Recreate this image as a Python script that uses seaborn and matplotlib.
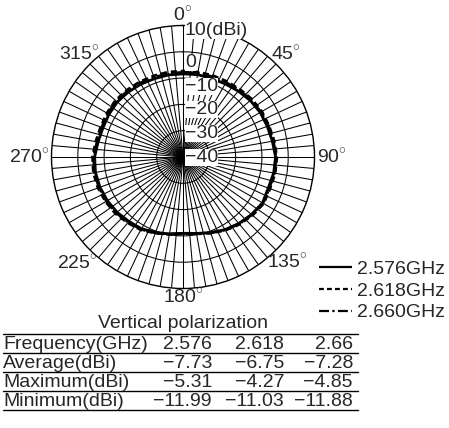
import numpy as np
import pandas as pd
import matplotlib
matplotlib.use("Agg")
import matplotlib.pyplot as plt
from matplotlib.lines import Line2D
import seaborn as sns

# measured pattern, every 10 degrees (clockwise from top), dBi
angles = list(range(0, 360, 10))
gain_2576 = [-8.4, -8.2, -8.2, -7.9, -7.3, -6.6, -6.1, -5.9, -5.5, -4.8, -5.0, -5.5,
             -5.1, -6.0, -7.0, -8.1, -9.4, -10.5, -11.0, -10.3, -9.5, -8.5, -8.0, -7.3,
             -6.8, -6.4, -6.2, -6.4, -7.2, -7.6, -7.5, -7.4, -7.7, -8.0, -8.3, -8.3]
gain_2618 = [-7.3, -7.2, -7.0, -6.8, -6.4, -5.8, -5.4, -5.2, -4.8, -4.3, -4.4, -4.8,
             -4.6, -5.5, -6.6, -7.8, -9.2, -10.3, -10.8, -10.1, -9.2, -8.0, -7.3, -6.5,
             -6.0, -5.6, -5.4, -5.6, -6.3, -6.7, -6.6, -6.5, -6.8, -7.0, -7.2, -7.2]
gain_2660 = [-7.8, -7.6, -7.5, -7.3, -6.8, -6.2, -5.8, -5.5, -5.1, -4.6, -4.7, -5.1,
             -4.9, -5.8, -6.8, -8.0, -9.3, -10.4, -10.9, -10.2, -9.3, -8.2, -7.6, -6.9,
             -6.4, -6.0, -5.8, -6.0, -6.8, -7.1, -7.0, -6.9, -7.2, -7.5, -7.8, -7.8]
freq_labels = ["2.576GHz", "2.618GHz", "2.660GHz"]

r_ticks = [10, 0, -10, -20, -30, -40]
r_tick_labels = ["10(dBi)", "0", "\u221210", "\u221220", "\u221230", "\u221240"]
angle_ticks = [0, 45, 90, 135, 180, 225, 270, 315]

# table
row_names = ["Frequency(GHz)", "Average(dBi)", "Maximum(dBi)", "Minimum(dBi)"]
col_freq = ["2.576", "2.618", "2.66"]
avg_vals = [-7.73, -6.75, -7.28]
max_vals = [-5.31, -4.27, -4.85]
min_vals = [-11.99, -11.03, -11.88]

sns.set_style("white")
plt.rcParams["font.family"] = ["Liberation Sans", "DejaVu Sans"]
plt.rcParams["mathtext.fontset"] = "custom"
plt.rcParams["mathtext.rm"] = "Liberation Sans"

W, H = 449, 428
fig = plt.figure(figsize=(W / 100, H / 100), dpi=100)
cx, cy, R = 183, 157, 131.5
ax = fig.add_axes([(cx - R) / W, (H - cy - R) / H, 2 * R / W, 2 * R / H],
                  projection="polar")
ax.set_theta_zero_location("N")
ax.set_theta_direction(-1)

rows = []
for lab, g in zip(freq_labels, [gain_2576, gain_2618, gain_2660]):
    for a, v in zip(angles + [360], g + [g[0]]):
        rows.append({"theta": np.deg2rad(a), "gain": v, "freq": lab})
df = pd.DataFrame(rows)

dash_map = {"2.576GHz": "", "2.618GHz": (2.2, 1.4), "2.660GHz": (4, 1.2, 0.8, 1.2)}
sns.lineplot(data=df, x="theta", y="gain", hue="freq", style="freq",
             palette=["black"] * 3, dashes=dash_map, sort=False, estimator=None,
             lw=2.0, legend=False, ax=ax, zorder=5)

ax.set_rlim(-40, 10)
ax.set_rgrids([-30, -20, -10, 0], labels=[])
ax.set_thetagrids(np.arange(0, 360, 5), labels=[])
ax.grid(True, color="black", lw=0.75)
ax.spines["polar"].set_color("black")
ax.spines["polar"].set_linewidth(1.0)
ax.set_xlabel("")
ax.set_ylabel("")
ax.tick_params(pad=0)

fs = 14
# radial labels along the 0 degree spoke
offsets = [5, 11, 8, 5, 3, 0]
for val, lab, off in zip(r_ticks, r_tick_labels, offsets):
    ax.annotate(lab, xy=(0, val), xytext=(2, -off), textcoords="offset pixels",
                ha="left", va="center", fontsize=fs, zorder=6,
                bbox=dict(boxstyle="square,pad=0.0", fc="white", ec="none"))

# angle labels
label_r = {0: 14.0, 45: 15.5, 90: 10.9, 135: 16.3, 180: 13.2, 225: 17.0, 270: 10.6, 315: 15.5}
for a in angle_ticks:
    ha = "center"
    if a == 90:
        ha = "left"
    elif a == 270:
        ha = "right"
    ax.text(np.deg2rad(a), label_r[a], f"{a}$^{{\\circ}}$", ha=ha, va="center",
            fontsize=fs, clip_on=False)

# legend
handles = [Line2D([], [], color="black", lw=1.6, dashes=(1, 0)),
           Line2D([], [], color="black", lw=1.6, dashes=(2.2, 1.4)),
           Line2D([], [], color="black", lw=1.6, dashes=(4.5, 1.5, 1, 1.5))]
fig.legend(handles, freq_labels, loc="upper left", bbox_to_anchor=(319 / W, 1 - 260 / H),
           frameon=False, fontsize=fs, handlelength=1.7, handletextpad=0.25,
           labelspacing=0.22, borderpad=0, borderaxespad=0)

fig.text(cx / W, 1 - 323 / H, "Vertical polarization", ha="center", va="center", fontsize=fs)

# table
def fmt(v):
    return f"{v:.2f}".replace("-", "\u2212")

table_rows = [[row_names[0]] + col_freq,
              [row_names[1]] + [fmt(v) for v in avg_vals],
              [row_names[2]] + [fmt(v) for v in max_vals],
              [row_names[3]] + [fmt(v) for v in min_vals]]
row_base = [349, 368, 387, 406]
col_x = [212, 284, 353]
line_y = [334, 353, 372, 391, 410]
for ty, cells in zip(row_base, table_rows):
    fig.text(3 / W, 1 - ty / H, cells[0], ha="left", va="baseline", fontsize=fs)
    for xx, c in zip(col_x, cells[1:]):
        fig.text(xx / W, 1 - ty / H, c, ha="right", va="baseline", fontsize=fs)
for ly in line_y:
    fig.add_artist(Line2D([3 / W, 358 / W], [1 - ly / H, 1 - ly / H], color="black", lw=1.0,
                          transform=fig.transFigure))

fig.savefig("out.png", dpi=100)
